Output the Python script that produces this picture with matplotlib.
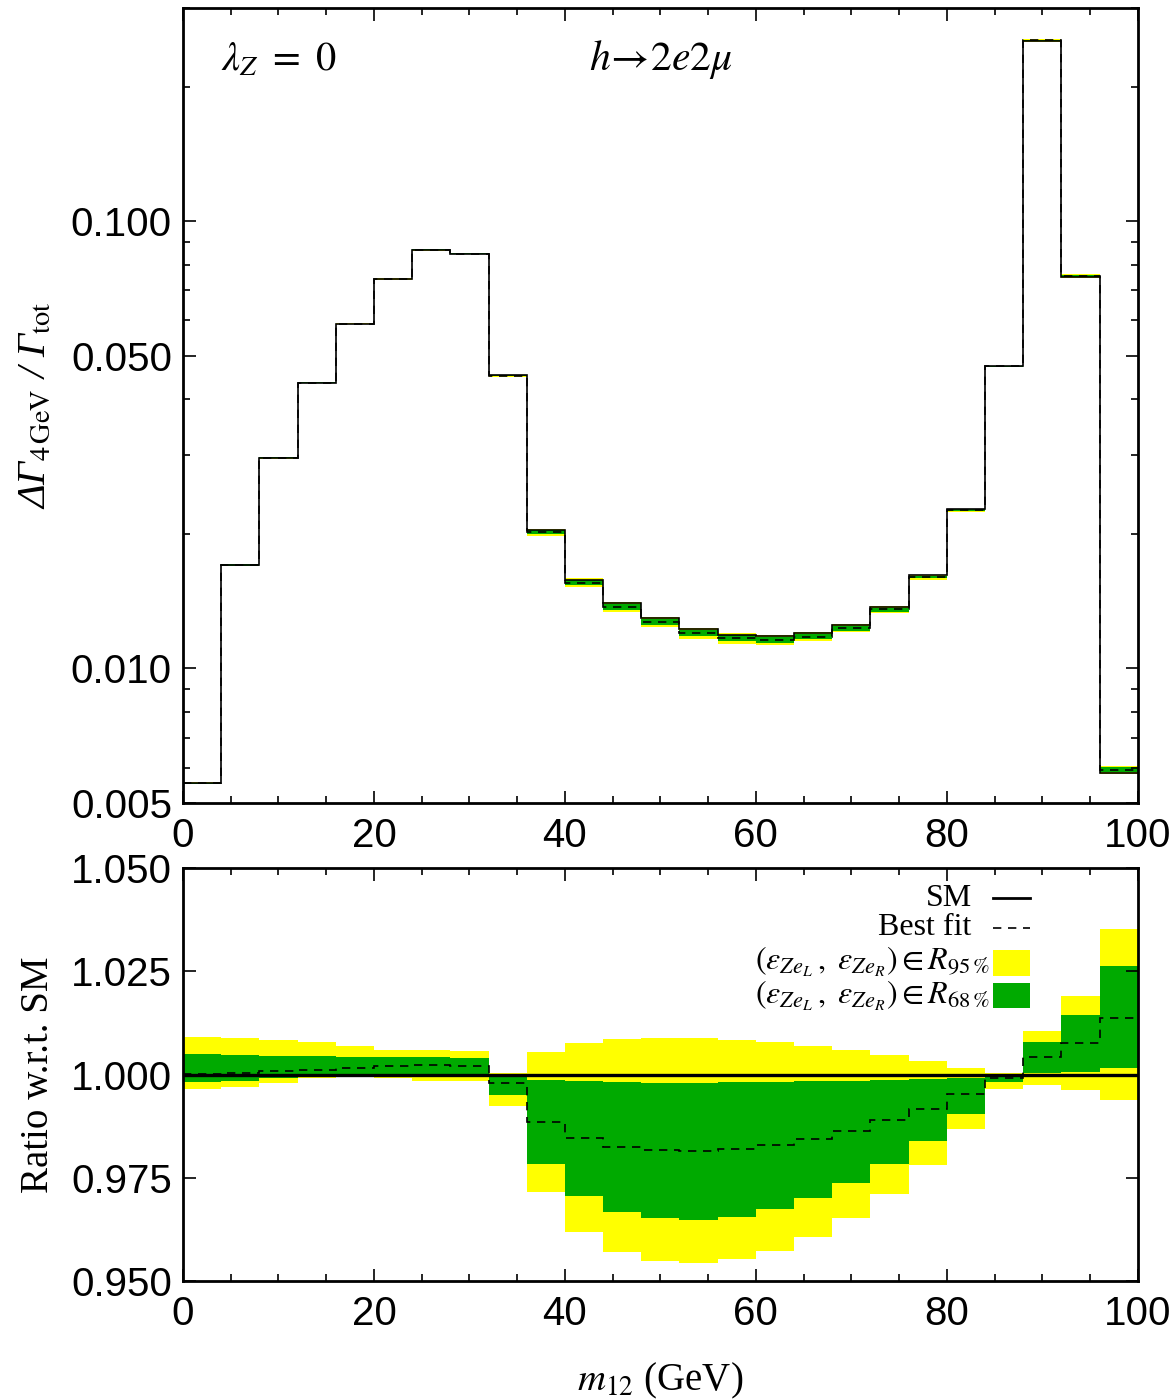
import numpy as np
import matplotlib
matplotlib.use("Agg")
import matplotlib.pyplot as plt
from matplotlib.ticker import FixedLocator, FixedFormatter, MultipleLocator, NullFormatter
from matplotlib.patches import Rectangle
from matplotlib.lines import Line2D

plt.rcParams['font.family'] = ['Liberation Sans', 'DejaVu Sans']
plt.rcParams['mathtext.fontset'] = 'stix'

# m12 bins, 4 GeV wide
edges = np.arange(0, 101, 4)

# SM differential width per bin
sm = [0.00553, 0.0170, 0.0295, 0.0434, 0.0588, 0.0741, 0.0861, 0.0844,
      0.0452, 0.0204, 0.0158, 0.01398, 0.01294, 0.01222, 0.0119, 0.01179,
      0.01197, 0.01248, 0.0137, 0.01615, 0.0227, 0.0474, 0.2527, 0.0749,
      0.00585]

# ratio to SM: best fit, 68% and 95% regions
best_fit = [1.0002, 1.0004, 1.0008, 1.0012, 1.0016, 1.0020, 1.0023, 1.0021,
            0.99794, 0.9885, 0.98455, 0.98252, 0.98165, 0.98155, 0.98203,
            0.98286, 0.98438, 0.98639, 0.98891, 0.99172, 0.99521, 0.99923,
            1.00431, 1.00755, 1.01368]
g_up = [1.00489, 1.00465, 1.00448, 1.00441, 1.00424, 1.00416, 1.00424,
        1.0040, 1.0000, 0.99867, 0.99843, 0.99826, 0.99801, 0.99801,
        0.99811, 0.99826, 0.99835, 0.9985, 0.99867, 0.99891, 0.99915,
        0.9999, 1.00787, 1.01441, 1.02634]
g_lo = [0.99811, 0.99843, 0.99908, 0.9997, 0.9999, 0.9997, 0.9995, 0.9995,
        0.99504, 0.97826, 0.97065, 0.96678, 0.96518, 0.96484, 0.96557,
        0.96743, 0.9701, 0.97373, 0.97833, 0.98383, 0.99036, 0.99811,
        1.00029, 1.00068, 1.0015]
y_up = [1.00915, 1.00884, 1.00835, 1.0078, 1.0069, 1.0060, 1.00593,
        1.00569, 1.0003, 1.00545, 1.00755, 1.00852, 1.00891, 1.00891,
        1.00835, 1.00787, 1.00697, 1.0060, 1.00479, 1.00327, 1.00165,
        1.0003, 1.01053, 1.01901, 1.03523]
y_lo = [0.99649, 0.99705, 0.99801, 0.99923, 0.99964, 0.9992, 0.9985,
        0.99835, 0.99245, 0.97155, 0.96186, 0.9571, 0.95484, 0.95429,
        0.95525, 0.95734, 0.96073, 0.96533, 0.97114, 0.97809, 0.98673,
        0.99649, 0.99746, 0.99625, 0.99383]

top_ticks = [0.005, 0.010, 0.050, 0.100]
top_ticklabels = ['0.005', '0.010', '0.050', '0.100']
ratio_ticks = [0.950, 0.975, 1.000, 1.025, 1.050]
ratio_ticklabels = ['0.950', '0.975', '1.000', '1.025', '1.050']

YELLOW = '#ffff00'
GREEN = '#00aa00'
serif = ['Liberation Serif', 'DejaVu Serif']
DASH = (0, (5, 4))

sm_a = np.array(sm)
fig = plt.figure(figsize=(11.73, 14.0), dpi=100)
ax1 = fig.add_axes([0.156, 0.4264, 0.814, 0.568])
ax2 = fig.add_axes([0.156, 0.085, 0.814, 0.295])

# --- upper panel: distribution ---
ax1.stairs(sm_a * np.array(y_up), edges, baseline=sm_a * np.array(y_lo),
           fill=True, color=YELLOW, lw=0)
ax1.stairs(sm_a * np.array(g_up), edges, baseline=sm_a * np.array(g_lo),
           fill=True, color=GREEN, lw=0)
ax1.stairs(sm_a * np.array(best_fit), edges, baseline=None, color='k',
           lw=1.2, linestyle=DASH)
ax1.stairs(sm, edges, baseline=None, color='k', lw=1.2)

ax1.set_yscale('log')
ax1.set_xlim(0, 100)
ax1.set_ylim(0.005, 0.30)
ax1.yaxis.set_major_locator(FixedLocator(top_ticks))
ax1.yaxis.set_major_formatter(FixedFormatter(top_ticklabels))
minor = [0.006, 0.007, 0.008, 0.009, 0.02, 0.03, 0.04, 0.06, 0.07, 0.08,
         0.09, 0.2, 0.3]
ax1.yaxis.set_minor_locator(FixedLocator(minor))
ax1.yaxis.set_minor_formatter(NullFormatter())
ax1.set_ylabel(r'ΔΓ$_{\mathrm{4\,GeV}}$ / Γ$_{\mathrm{tot}}$', family=serif,
               style='italic', fontsize=29, labelpad=12)
ax1.text(0.04, 0.935, r'$\lambda_Z\ =\ 0$', transform=ax1.transAxes,
         fontsize=29, va='center')
ax1.text(0.425, 0.935, r'$h\!\rightarrow\!2e2\mu$', transform=ax1.transAxes,
         fontsize=30, va='center')

# --- lower panel: ratio to SM ---
ax2.stairs(y_up, edges, baseline=y_lo, fill=True, color=YELLOW, lw=0)
ax2.stairs(g_up, edges, baseline=g_lo, fill=True, color=GREEN, lw=0)
ax2.stairs(best_fit, edges, baseline=None, color='k', lw=1.2, linestyle=DASH)
ax2.axhline(1.0, color='k', lw=2.4)
ax2.set_xlim(0, 100)
ax2.set_ylim(0.950, 1.050)
ax2.yaxis.set_major_locator(FixedLocator(ratio_ticks))
ax2.yaxis.set_major_formatter(FixedFormatter(ratio_ticklabels))
ax2.set_ylabel('Ratio w.r.t. SM', family=serif, fontsize=28, labelpad=10)
ax2.set_xlabel(r'$m_{12}$ (GeV)', family=serif, fontsize=28, labelpad=20)

for ax in (ax1, ax2):
    ax.xaxis.set_major_locator(MultipleLocator(20))
    ax.xaxis.set_minor_locator(MultipleLocator(5))
    ax.tick_params(which='both', direction='in', top=True, right=True,
                   labelsize=29, width=1.2)
    ax.tick_params(which='major', length=9, pad=8)
    ax.tick_params(axis='x', which='major', pad=10)
    ax.tick_params(which='minor', length=5)
    for s in ax.spines.values():
        s.set_linewidth(2)

# legend drawn by hand: labels right-aligned, keys to the right
tr = ax2.transAxes
rows = [0.927, 0.855, 0.772, 0.690]
label_x = [0.826, 0.826, 0.845, 0.845]
labels = ['SM', 'Best fit',
          r'$(\varepsilon_{Ze_L}\,,\ \varepsilon_{Ze_R})\in R_{95\,\%}$',
          r'$(\varepsilon_{Ze_L}\,,\ \varepsilon_{Ze_R})\in R_{68\,\%}$']
for xx, yy, lab in zip(label_x, rows, labels):
    ax2.text(xx, yy, lab, transform=tr, ha='right', va='center',
             family=serif, fontsize=23)
ax2.add_line(Line2D([0.848, 0.887], [rows[0], rows[0]], transform=tr,
                    color='k', lw=2))
ax2.add_line(Line2D([0.848, 0.887], [rows[1], rows[1]], transform=tr,
                    color='k', lw=1.2, linestyle=DASH))
ax2.add_patch(Rectangle((0.848, 0.738), 0.039, 0.063, transform=tr,
                        color=YELLOW, lw=0))
ax2.add_patch(Rectangle((0.848, 0.661), 0.039, 0.061, transform=tr,
                        color=GREEN, lw=0))

fig.savefig('out.png', dpi=100)
